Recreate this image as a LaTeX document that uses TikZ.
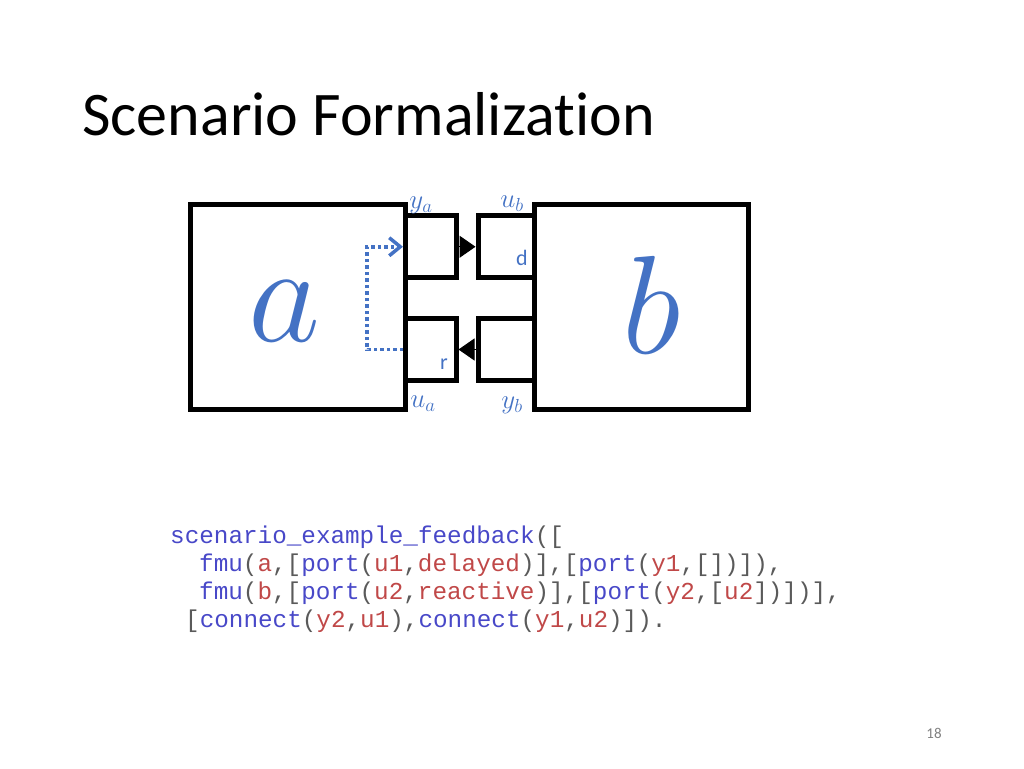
\RequirePackage{fix-cm}
\documentclass[tikz,border=0pt]{standalone}
\usepackage{fontspec}
\setmainfont{Carlito}[Ligatures=NoCommon]
\setmonofont{Liberation Mono}
\usetikzlibrary{arrows.meta}
\definecolor{labelblue}{HTML}{4472C4}
\definecolor{codeblue}{HTML}{4848C8}
\definecolor{codered}{HTML}{C04848}
\definecolor{codegray}{HTML}{5A5A5A}
\newcommand{\cfn}[1]{\textcolor{codeblue}{#1}}
\newcommand{\carg}[1]{\textcolor{codered}{#1}}
\tikzset{
    fmubox/.style={draw, line width=5pt, minimum width=#1, minimum height=205pt, inner sep=0pt},
    portbox/.style={draw, line width=5pt, minimum width=#1, minimum height=62pt, inner sep=0pt},
    portlabel/.style={text=labelblue, inner sep=0pt, font=\fontsize{27}{30}\selectfont},
    fmuname/.style={text=labelblue, inner sep=0pt, font=\fontsize{140}{140}\selectfont},
    codeline/.style={anchor=base west, inner sep=0pt, text=codegray, font=\ttfamily\fontsize{24.3}{28}\selectfont},
    feedback/.style={labelblue, line width=3.5pt, dash pattern=on 3.5pt off 3pt, -{Straight Barb[length=11pt,width=18pt]}},
    delay/.style={line width=1pt, -{Triangle[length=16pt,width=22pt]}}
}
\begin{document}
\begin{tikzpicture}[x=1pt, y=-1pt]
        \useasboundingbox (0,0) rectangle (1024,768);
        \node[anchor=base west, inner sep=0pt, font=\fontsize{62}{70}\selectfont] (title) at (82,135) {Scenario Formalization};
        \node[fmubox=215pt] (a) at (298,307) {};
        \node[fmubox=213.5pt] (b) at (641.25,307) {};
        \foreach \n/\x/\y/\w in {ya/430.75/246.75/50.5, ua/430.75/349.5/50.5, ub/506.25/246.75/56.5, yb/506.25/349.5/56.5}
        {
            \node[portbox=\w pt] (\n) at (\x,\y) {};
        }
        \node[fmuname] (aname) at (284,311) {$a$};
        \node[fmuname] (bname) at (652,305) {$b$};
        \node[portlabel] (yalabel) at (421,205) {$y_a$};
        \node[portlabel] (ualabel) at (423,404) {$u_a$};
        \node[portlabel] (ublabel) at (512,204) {$u_b$};
        \node[portlabel] (yblabel) at (512,405) {$y_b$};
        \node[text=labelblue, inner sep=0pt, font=\fontsize{22}{24}\selectfont] (dlabel) at (522,258) {d};
        \node[text=labelblue, inner sep=0pt, font=\fontsize{22}{24}\selectfont] (rlabel) at (444,364) {r};
        \draw[delay] (ya.east) -- (ub.west);
        \draw[delay] (yb.west) -- (ua.east);
        \draw[feedback] (ua.west) -- ++(-36,0) |- (ya.west);
        \node[codeline] (code1) at (170,543) {\cfn{scenario\_example\_feedback}([};
        \node[codeline] (code2) at (199,571) {\cfn{fmu}(\carg{a},[\cfn{port}(\carg{u1},\carg{delayed})],[\cfn{port}(\carg{y1},[])]),};
        \node[codeline] (code3) at (199,599) {\cfn{fmu}(\carg{b},[\cfn{port}(\carg{u2},\carg{reactive})],[\cfn{port}(\carg{y2},[\carg{u2}])])],};
        \node[codeline] (code4) at (185,627) {[\cfn{connect}(\carg{y2},\carg{u1}),\cfn{connect}(\carg{y1},\carg{u2})]).};
        \node[text=gray, inner sep=0pt, font=\fontsize{15}{18}\selectfont] (pagenum) at (934,733) {18};
\end{tikzpicture}
\end{document}
